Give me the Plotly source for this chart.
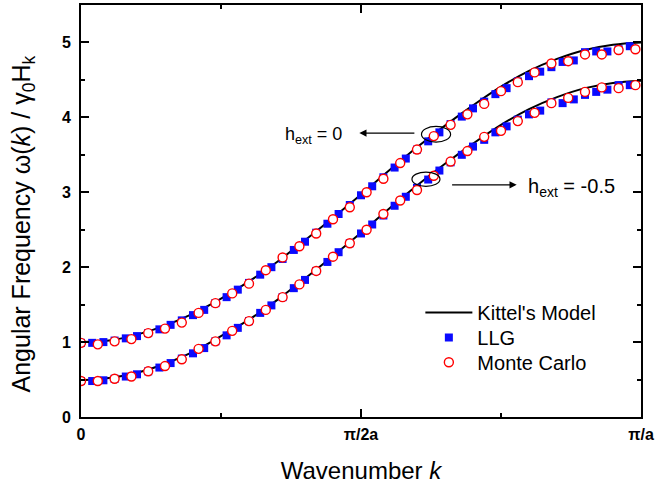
import plotly.graph_objects as go

# Wavenumber k in units of pi/a
k_model = [0.00, 0.05, 0.10, 0.15, 0.20, 0.25, 0.30, 0.35, 0.40, 0.45, 0.50,
           0.55, 0.60, 0.65, 0.70, 0.75, 0.80, 0.85, 0.90, 0.95, 1.00]
kittel_h0 = [1.00, 1.02, 1.10, 1.22, 1.38, 1.58, 1.81, 2.07, 2.36, 2.66, 2.97,
             3.29, 3.60, 3.89, 4.16, 4.41, 4.62, 4.78, 4.90, 4.97, 5.00]
kittel_hm05 = [0.49, 0.52, 0.59, 0.71, 0.87, 1.08, 1.30, 1.56, 1.85, 2.15, 2.46,
               2.78, 3.09, 3.38, 3.65, 3.90, 4.11, 4.27, 4.39, 4.46, 4.49]

k_llg = [0.00, 0.02, 0.04, 0.06, 0.08, 0.10, 0.12, 0.14, 0.16, 0.18,
         0.20, 0.22, 0.24, 0.26, 0.28, 0.30, 0.32, 0.34, 0.36, 0.38,
         0.40, 0.42, 0.44, 0.46, 0.48, 0.50, 0.52, 0.54, 0.56, 0.58,
         0.60, 0.62, 0.64, 0.66, 0.68, 0.70, 0.72, 0.74, 0.76, 0.78,
         0.80, 0.82, 0.84, 0.86, 0.88, 0.90, 0.92, 0.94, 0.96, 0.98]
llg_h0 = [0.99, 0.99, 1.00, 1.02, 1.05, 1.08, 1.12, 1.17, 1.23, 1.29,
          1.36, 1.43, 1.52, 1.60, 1.70, 1.79, 1.90, 2.00, 2.11, 2.23,
          2.34, 2.46, 2.58, 2.71, 2.83, 2.96, 3.08, 3.20, 3.33, 3.45,
          3.57, 3.68, 3.80, 3.91, 4.01, 4.12, 4.21, 4.31, 4.39, 4.48,
          4.55, 4.61, 4.67, 4.74, 4.76, 4.87, 4.88, 4.88, 4.91, 4.95]
llg_hm05 = [0.48, 0.48, 0.49, 0.51, 0.54, 0.57, 0.61, 0.66, 0.72, 0.78,
            0.85, 0.92, 1.01, 1.09, 1.19, 1.28, 1.39, 1.49, 1.60, 1.72,
            1.83, 1.95, 2.07, 2.20, 2.32, 2.45, 2.57, 2.69, 2.82, 2.94,
            3.06, 3.17, 3.29, 3.40, 3.50, 3.61, 3.70, 3.80, 3.88, 3.97,
            4.04, 4.09, 4.20, 4.19, 4.24, 4.30, 4.34, 4.37, 4.43, 4.43]

k_mc = [0.00, 0.03, 0.06, 0.09, 0.12, 0.15, 0.18, 0.21, 0.24, 0.27,
        0.30, 0.33, 0.36, 0.39, 0.42, 0.45, 0.48, 0.51, 0.54, 0.57,
        0.60, 0.63, 0.66, 0.69, 0.72, 0.75, 0.78, 0.81, 0.84, 0.87,
        0.90, 0.93, 0.96, 0.99]
mc_h0 = [0.99, 0.97, 1.01, 1.04, 1.12, 1.18, 1.26, 1.39, 1.52, 1.65,
         1.78, 1.96, 2.13, 2.28, 2.45, 2.64, 2.80, 3.00, 3.18, 3.39,
         3.57, 3.75, 3.90, 4.04, 4.18, 4.35, 4.47, 4.60, 4.72, 4.75,
         4.84, 4.84, 4.90, 4.91]
mc_hm05 = [0.48, 0.48, 0.51, 0.54, 0.61, 0.68, 0.77, 0.91, 1.01, 1.15,
           1.28, 1.43, 1.60, 1.77, 1.95, 2.14, 2.32, 2.50, 2.71, 2.89,
           3.03, 3.22, 3.41, 3.55, 3.74, 3.82, 3.95, 4.06, 4.19, 4.26,
           4.34, 4.40, 4.39, 4.43]

x_tickvals = [0, 0.5, 1]
x_ticktext = ["0", "π/2a", "π/a"]

FONT = "Liberation Sans, Arial, sans-serif"

fig = go.Figure()

# each series gets its own legend box so the rows sit close together
for i, yv in enumerate([kittel_h0, kittel_hm05]):
    fig.add_trace(go.Scatter(
        x=k_model, y=yv, mode="lines", name="Kittel's Model",
        legend="legend", showlegend=(i == 0),
        line=dict(color="black", width=2, shape="spline", smoothing=1.0),
    ))

for i, yv in enumerate([llg_h0, llg_hm05]):
    fig.add_trace(go.Scatter(
        x=k_llg, y=yv, mode="markers", name="LLG",
        legend="legend2", showlegend=(i == 0),
        marker=dict(symbol="square", size=8, color="#0a0aff",
                    line=dict(width=0)),
    ))

for i, yv in enumerate([mc_h0, mc_hm05]):
    fig.add_trace(go.Scatter(
        x=k_mc, y=yv, mode="markers", name="Monte Carlo",
        legend="legend3", showlegend=(i == 0),
        marker=dict(symbol="circle", size=9, color="white",
                    line=dict(width=1.4, color="#ff0000")),
    ))

# ellipses marking the two branches
fig.add_shape(type="circle", xref="x", yref="y",
              x0=0.608, x1=0.660, y0=3.67, y1=3.88,
              line=dict(color="black", width=1.2))
fig.add_shape(type="circle", xref="x", yref="y",
              x0=0.591, x1=0.641, y0=3.08, y1=3.27,
              line=dict(color="black", width=1.2))

# arrows and field labels
fig.add_annotation(x=0.497, y=3.79, ax=0.598, ay=3.79, xref="x", yref="y",
                   axref="x", ayref="y", text="", showarrow=True,
                   arrowhead=2, arrowsize=1.2, arrowwidth=1.2, arrowcolor="black")
fig.add_annotation(x=0.778, y=3.10, ax=0.660, ay=3.10, xref="x", yref="y",
                   axref="x", ayref="y", text="", showarrow=True,
                   arrowhead=2, arrowsize=1.2, arrowwidth=1.2, arrowcolor="black")
fig.add_annotation(x=0.360, y=3.76, xref="x", yref="y", xanchor="left",
                   yanchor="middle", showarrow=False,
                   text="h<sub>ext</sub> = 0",
                   font=dict(family=FONT, size=18, color="black"))
fig.add_annotation(x=0.794, y=3.07, xref="x", yref="y", xanchor="left",
                   yanchor="middle", showarrow=False,
                   text="h<sub>ext</sub> = -0.5",
                   font=dict(family=FONT, size=20, color="black"))

# vertical axis title, placed as rotated text beside the tick labels
fig.add_annotation(x=-0.103, y=0.468, xref="paper", yref="paper",
                   xanchor="center", yanchor="middle", textangle=-90,
                   showarrow=False,
                   text="Angular Frequency ω(<i>k</i>) / γ<sub>0</sub>H<sub>k</sub>",
                   font=dict(family=FONT, size=25, color="black"))

axis_common = dict(
    showline=True, linecolor="black", linewidth=2, mirror="allticks",
    ticks="inside", ticklen=8, tickwidth=1.5, tickcolor="black",
    showgrid=False, zeroline=False,
    tickfont=dict(family=FONT, size=16, color="black", weight="bold"),
)

fig.update_xaxes(
    range=[0, 1], tickvals=x_tickvals, ticktext=x_ticktext,
    minor=dict(tickvals=[0.25, 0.75], ticklen=4, tickwidth=1.5,
               ticks="inside", tickcolor="black"),
    ticklabelstandoff=2,
    title=dict(text="Wavenumber <i>k</i>",
               font=dict(family=FONT, size=24, color="black"), standoff=20),
    **axis_common,
)
fig.update_yaxes(
    range=[0, 5.5], tickvals=[0, 1, 2, 3, 4, 5],
    minor=dict(tickvals=[0.5, 1.5, 2.5, 3.5, 4.5, 5.5], ticklen=4,
               tickwidth=1.5, ticks="inside", tickcolor="black"),
    ticklabelstandoff=5,
    **axis_common,
)

legend_common = dict(x=0.606, xanchor="left", yanchor="middle",
                     bgcolor="rgba(0,0,0,0)", itemwidth=47,
                     font=dict(family=FONT, size=20, color="black"))

fig.update_layout(
    width=657, height=486,
    margin=dict(l=81, r=14, t=3, b=69),
    plot_bgcolor="white", paper_bgcolor="white",
    legend=dict(y=0.2536, **legend_common),
    legend2=dict(y=0.1932, **legend_common),
    legend3=dict(y=0.1329, **legend_common),
)

fig.write_html("out.html")
